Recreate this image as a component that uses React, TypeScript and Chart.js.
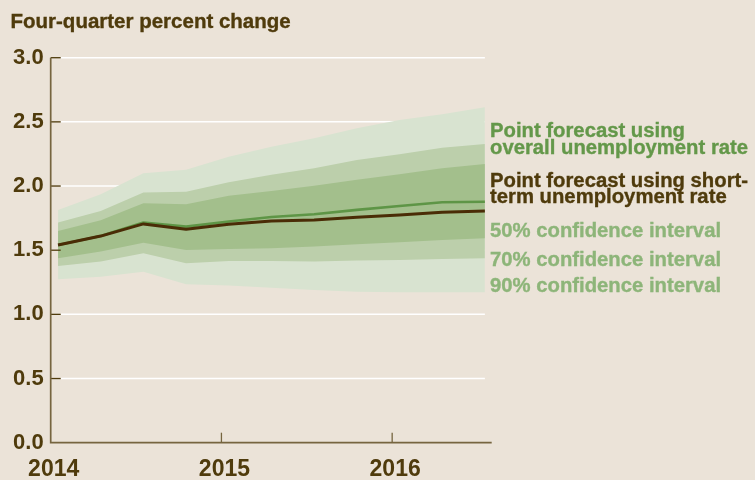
import React, { useEffect, useRef } from 'react';
import { Chart, registerables } from 'chart.js';

Chart.register(...registerables);

// ---- data ----
const quarterX = [2014.043, 2014.293, 2014.543, 2014.793, 2015.043, 2015.293, 2015.543, 2015.793, 2016.043, 2016.293, 2016.543];
const shortTermForecast = [1.54, 1.61, 1.705, 1.663, 1.702, 1.728, 1.736, 1.757, 1.775, 1.796, 1.806];
const overallForecast = [1.54, 1.61, 1.715, 1.684, 1.723, 1.759, 1.78, 1.814, 1.845, 1.874, 1.878];
const ci50High = [1.65, 1.733, 1.866, 1.858, 1.925, 1.962, 2.003, 2.048, 2.092, 2.139, 2.172];
const ci50Low = [1.437, 1.489, 1.559, 1.502, 1.51, 1.515, 1.528, 1.546, 1.562, 1.58, 1.593];
const ci70High = [1.715, 1.806, 1.949, 1.956, 2.03, 2.087, 2.139, 2.203, 2.248, 2.299, 2.328];
const ci70Low = [1.377, 1.411, 1.476, 1.398, 1.416, 1.416, 1.411, 1.419, 1.424, 1.432, 1.437];
const ci90High = [1.814, 1.936, 2.1, 2.126, 2.229, 2.307, 2.372, 2.45, 2.515, 2.56, 2.614];
const ci90Low = [1.273, 1.294, 1.333, 1.235, 1.224, 1.208, 1.19, 1.177, 1.172, 1.172, 1.172];
const yearTicks = [2014, 2015, 2016];
const yearLabels = ['2014', '2015', '2016'];
const yTickValues = [0, 0.5, 1, 1.5, 2, 2.5, 3];
const yTickLabels = ['0.0', '0.5', '1.0', '1.5', '2.0', '2.5', '3.0'];
const titleText = 'Four-quarter percent change';
const legendTexts = [
  'Point forecast using',
  'overall unemployment rate',
  'Point forecast using short-',
  'term unemployment rate',
  '50% confidence interval',
  '70% confidence interval',
  '90% confidence interval',
];

// ---- styles ----
const BG = '#EBE3D8';
const DARK = '#4F3B0C';
const AXIS = '#76653F';
const GREEN_LINE = '#5E9546';
const BROWN_LINE = '#4A2C06';
const GREEN_TEXT = '#64984A';
const CI_TEXT = '#8DB579';
const BAND90 = '#D8E3D0';
const BAND70 = '#BCCFAB';
const BAND50 = '#A3BF8C';
const FONT = "'Liberation Sans', Arial, sans-serif";

const legendStyle = [
  { color: GREEN_TEXT, baseline: 136.7 },
  { color: GREEN_TEXT, baseline: 154 },
  { color: DARK, baseline: 186.7 },
  { color: DARK, baseline: 203.3 },
  { color: CI_TEXT, baseline: 237.3 },
  { color: CI_TEXT, baseline: 265.7 },
  { color: CI_TEXT, baseline: 292.3 },
];

const pts = (arr: number[]) => arr.map((v, i) => ({ x: quarterX[i], y: v }));

const decorPlugin = {
  id: 'decor',
  beforeDatasetsDraw(chart: any) {
    const { ctx, chartArea, scales } = chart;
    const x = scales.x;
    const y = scales.y;
    const left = chartArea.left;
    const endX = x.getPixelForValue(quarterX[quarterX.length - 1]);
    ctx.save();
    ctx.strokeStyle = '#FFFFFF';
    ctx.lineWidth = 1.5;
    yTickValues.forEach((v) => {
      if (v === 0) return;
      const py = y.getPixelForValue(v);
      ctx.beginPath();
      ctx.moveTo(left + 10, py);
      ctx.lineTo(endX, py);
      ctx.stroke();
    });
    ctx.restore();
  },
  afterDatasetsDraw(chart: any) {
    const { ctx, chartArea, scales } = chart;
    const x = scales.x;
    const y = scales.y;
    const { left, right, top, bottom } = chartArea;
    ctx.save();
    ctx.strokeStyle = DARK;
    ctx.lineWidth = 1.3;
    yTickValues.forEach((v) => {
      if (v === 0) return;
      const py = y.getPixelForValue(v);
      ctx.beginPath();
      ctx.moveTo(left, py);
      ctx.lineTo(left + 10, py);
      ctx.stroke();
    });
    ctx.strokeStyle = AXIS;
    ctx.lineWidth = 1.3;
    yearTicks.forEach((v, i) => {
      if (i === 0) return;
      const px = x.getPixelForValue(v);
      ctx.beginPath();
      ctx.moveTo(px, bottom - 10);
      ctx.lineTo(px, bottom);
      ctx.stroke();
    });
    ctx.lineWidth = 1.7;
    ctx.beginPath();
    ctx.moveTo(left, top);
    ctx.lineTo(left, bottom);
    ctx.lineTo(right, bottom);
    ctx.stroke();
    ctx.restore();
  },
};

export default function App() {
  const canvasRef = useRef<HTMLCanvasElement | null>(null);

  useEffect(() => {
    document.body.style.margin = '0';
    const canvas = canvasRef.current;
    if (!canvas) return;
    const band = (hi: number[], lo: number[], color: string, order: number) => [
      {
        data: pts(hi),
        fill: '+1',
        backgroundColor: color,
        borderColor: 'rgba(0,0,0,0)',
        borderWidth: 0,
        pointRadius: 0,
        tension: 0,
        order,
      },
      {
        data: pts(lo),
        fill: false,
        backgroundColor: color,
        borderColor: 'rgba(0,0,0,0)',
        borderWidth: 0,
        pointRadius: 0,
        tension: 0,
        order,
      },
    ];
    const chart = new Chart(canvas, {
      type: 'line',
      data: {
        datasets: [
          ...band(ci90High, ci90Low, BAND90, 4),
          ...band(ci70High, ci70Low, BAND70, 3),
          ...band(ci50High, ci50Low, BAND50, 2),
          {
            data: pts(overallForecast),
            fill: false,
            borderColor: GREEN_LINE,
            borderWidth: 2.6,
            pointRadius: 0,
            tension: 0,
            order: 1,
          },
          {
            data: pts(shortTermForecast),
            fill: false,
            borderColor: BROWN_LINE,
            borderWidth: 3,
            pointRadius: 0,
            tension: 0,
            order: 0,
          },
        ] as any,
      },
      options: {
        animation: false,
        responsive: false,
        devicePixelRatio: 1,
        layout: { padding: { top: 57.7, right: 263.3, left: 0, bottom: 0 } },
        plugins: {
          legend: { display: false },
          tooltip: { enabled: false },
          title: { display: false },
        },
        elements: { line: { borderJoinStyle: 'round', borderCapStyle: 'butt' } },
        scales: {
          x: {
            type: 'linear',
            min: 2014,
            max: 2016.583,
            grid: { display: false, drawTicks: false },
            border: { display: false },
            afterBuildTicks: (scale: any) => {
              scale.ticks = yearTicks.map((v) => ({ value: v }));
            },
            afterFit: (scale: any) => {
              scale.height = 37.3;
            },
            ticks: {
              autoSkip: false,
              maxRotation: 0,
              padding: 13,
              labelOffset: 3,
              color: DARK,
              font: { family: FONT, weight: 'bold', size: 23 },
              callback: (v: any) => {
                const i = yearTicks.indexOf(Number(v));
                return i >= 0 ? yearLabels[i] : '';
              },
            },
          },
          y: {
            type: 'linear',
            min: 0,
            max: 3,
            grid: { display: false, drawTicks: false },
            border: { display: false },
            afterBuildTicks: (scale: any) => {
              scale.ticks = yTickValues.map((v) => ({ value: v }));
            },
            afterFit: (scale: any) => {
              scale.width = 50.7;
            },
            ticks: {
              padding: 7,
              color: DARK,
              font: { family: FONT, weight: 'bold', size: 22 },
              callback: (v: any) => {
                const i = yTickValues.indexOf(Number(v));
                return i >= 0 ? yTickLabels[i] : '';
              },
            },
          },
        },
      } as any,
      plugins: [decorPlugin],
    });
    return () => chart.destroy();
  }, []);

  const textSize = 20.3;
  const baseOffset = 0.8465 * textSize;

  return (
    <div style={{ position: 'relative', width: 755, height: 480, background: BG, overflow: 'hidden' }}>
      <canvas ref={canvasRef} width={755} height={480} style={{ position: 'absolute', left: 0, top: 0 }} />
      <div
        style={{
          position: 'absolute',
          left: 10.5,
          top: 28.3 - 0.8465 * 20.5,
          fontFamily: FONT,
          fontWeight: 700,
          fontSize: 20.5,
          lineHeight: '20.5px',
          color: DARK,
          whiteSpace: 'nowrap',
          WebkitTextStroke: `0.35px ${DARK}`,
        }}
      >
        {titleText}
      </div>
      {legendTexts.map((t, i) => (
        <div
          key={i}
          style={{
            position: 'absolute',
            left: 490,
            top: legendStyle[i].baseline - baseOffset,
            fontFamily: FONT,
            fontWeight: 700,
            fontSize: textSize,
            lineHeight: `${textSize}px`,
            color: legendStyle[i].color,
            whiteSpace: 'nowrap',
            WebkitTextStroke: `0.35px ${legendStyle[i].color}`,
          }}
        >
          {t}
        </div>
      ))}
    </div>
  );
}
